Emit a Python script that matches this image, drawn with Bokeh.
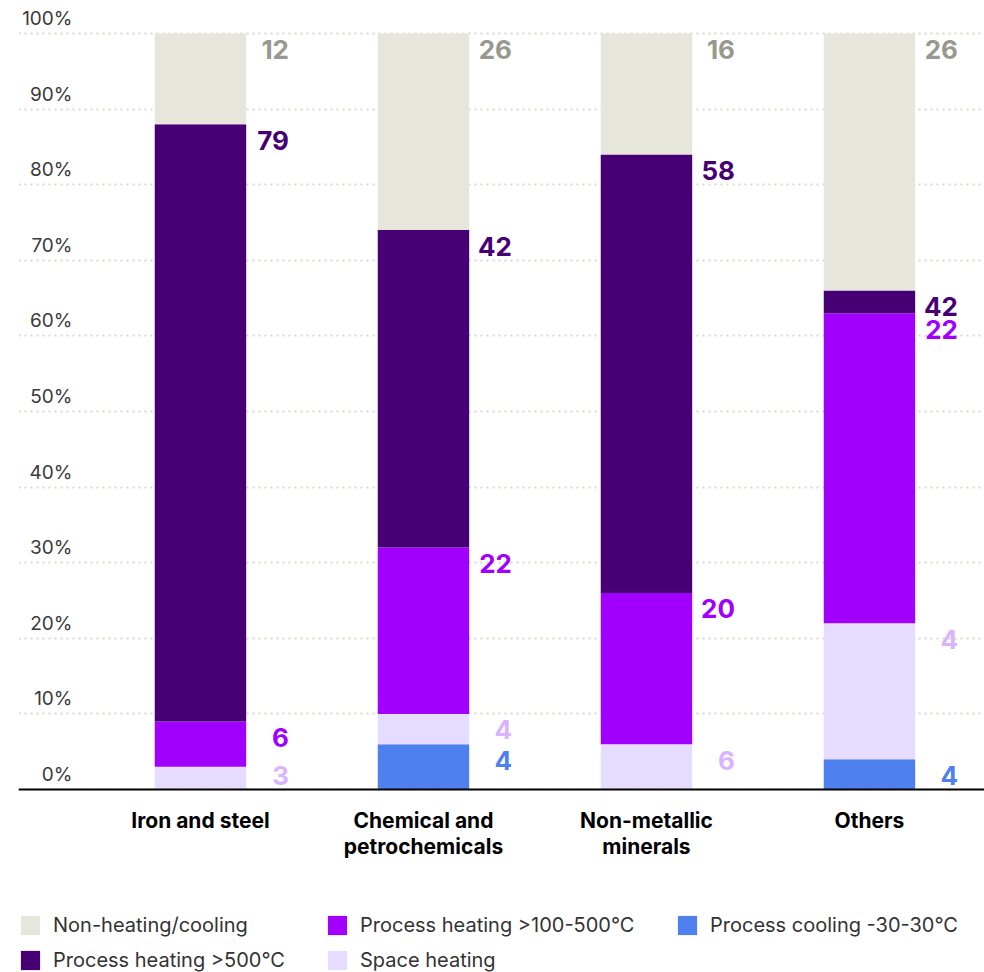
from bokeh.plotting import figure
from bokeh.models import (Range1d, FixedTicker, Legend, LegendItem,
                          ColumnDataSource, Grid)
from bokeh.core.properties import value
from bokeh.embed import file_html
from bokeh.resources import INLINE
import numpy as np

# ---------------- data ----------------
categories = ["Iron and steel", "Chemical and\npetrochemicals",
              "Non-metallic\nminerals", "Others"]

# visual segment heights (% of total), bottom to top
process_cooling = [0, 6, 0, 4]
space_heating = [3, 4, 6, 18]
process_heating_mid = [6, 22, 20, 41]
process_heating_high = [79, 42, 58, 3]
non_heating = [12, 26, 16, 34]

# printed value labels (as shown in the original)
label_cooling = ["", "4", "", "4"]
label_space = ["3", "4", "6", "4"]
label_mid = ["6", "22", "20", "22"]
label_high = ["79", "42", "58", "42"]
label_non = ["12", "26", "16", "26"]

series_names = ["Process cooling -30-30°C", "Space heating",
                "Process heating >100-500°C", "Process heating >500°C",
                "Non-heating/cooling"]

y_ticks = [0, 10, 20, 30, 40, 50, 60, 70, 80, 90, 100]
y_tick_labels = ["0%", "10%", "20%", "30%", "40%", "50%", "60%", "70%",
                 "80%", "90%", "100%"]

# ---------------- styles ----------------
fill_colors = ["#4F80F0", "#E6DCFF", "#A100FF", "#460073", "#E6E6DC"]
label_colors = ["#4F80F0", "#D9B3FF", "#A100FF", "#460073", "#98988E"]
FONT = "Inter"

x = list(range(len(categories)))
keys = ["cooling", "space", "mid", "high", "non"]
series_values = [process_cooling, space_heating, process_heating_mid,
                 process_heating_high, non_heating]
series_labels = [label_cooling, label_space, label_mid, label_high, label_non]

src = ColumnDataSource(dict(x=x, **{k: v for k, v in zip(keys, series_values)}))

FW, FH = 966, 964          # frame size in px
PX_PER_UNIT_Y = 7.56       # px per percentage point
Y1 = 100 + 25 / PX_PER_UNIT_Y
Y0 = Y1 - FH / PX_PER_UNIT_Y
X0 = -0.816

p = figure(frame_width=FW, frame_height=FH,
           x_range=Range1d(X0, X0 + FW / 223), y_range=Range1d(Y0, Y1),
           output_backend="svg", toolbar_location=None, title=None,
           y_axis_location=None,
           min_border_left=18, min_border_right=0, min_border_top=8,
           min_border_bottom=0)
p.outline_line_color = None
p.xgrid.visible = False
p.ygrid.visible = False

grid = Grid(dimension=1, ticker=FixedTicker(ticks=y_ticks),
            grid_line_color="#D9D9CC", grid_line_width=2,
            grid_line_dash="2 4")
p.add_layout(grid)

renderers = p.vbar_stack(keys, x="x", width=0.41, color=fill_colors,
                         line_width=0, source=src)

# value labels right of each bar, near the top of each segment
cum = np.cumsum(np.array(series_values, dtype=float), axis=0)
for i in range(len(keys)):
    top = np.maximum(cum[i], 4.0)
    lsrc = ColumnDataSource(dict(x=np.array(x) + 0.397, y=top,
                                 t=series_labels[i]))
    p.text(x="x", y="y", text="t", source=lsrc, text_align="right",
           text_baseline="middle", y_offset=16,
           text_font=value(FONT), text_font_style="bold",
           text_font_size="26px", text_color=label_colors[i])

# y tick labels sitting above gridlines
ysrc = ColumnDataSource(dict(x=[X0] * len(y_ticks), y=y_ticks,
                             t=y_tick_labels))
p.text(x="x", y="y", text="t", source=ysrc, text_align="right",
       text_baseline="middle", x_offset=54, y_offset=-15,
       text_font=value(FONT), text_font_size="19px", text_color="#3A3A3A")

# x axis, pinned at 0%
xa = p.xaxis[0]
xa.fixed_location = 0
xa.ticker = FixedTicker(ticks=x)
xa.major_label_overrides = {i: c for i, c in zip(x, categories)}
xa.axis_line_color = "#000000"
xa.axis_line_width = 2
xa.major_tick_line_color = None
xa.minor_tick_line_color = None
xa.major_label_standoff = 12
xa.major_label_text_font = FONT
xa.major_label_text_font_style = "bold"
xa.major_label_text_font_size = "21px"
xa.major_label_text_color = "#000000"
xa.major_label_text_line_height = 1.05

# legend: three columns, each its own legend block
columns = [([4, 3], 0), ([2, 1], 307), ([0], 657)]
for idx, xpos in columns:
    items = [LegendItem(label=series_names[i], renderers=[renderers[i]])
             for i in idx]
    h = 24 * len(idx) + 11 * (len(idx) - 1)
    lg = Legend(items=items, location=(xpos, 59 - h),
                orientation="vertical",
                glyph_width=24, glyph_height=24, label_standoff=11,
                spacing=11, padding=0, margin=0,
                label_text_font=FONT, label_text_font_size="20px",
                label_text_color="#333333", label_height=24,
                border_line_color=None, background_fill_alpha=0)
    p.add_layout(lg, "center")

open("out.html", "w").write(file_html(p, INLINE))
